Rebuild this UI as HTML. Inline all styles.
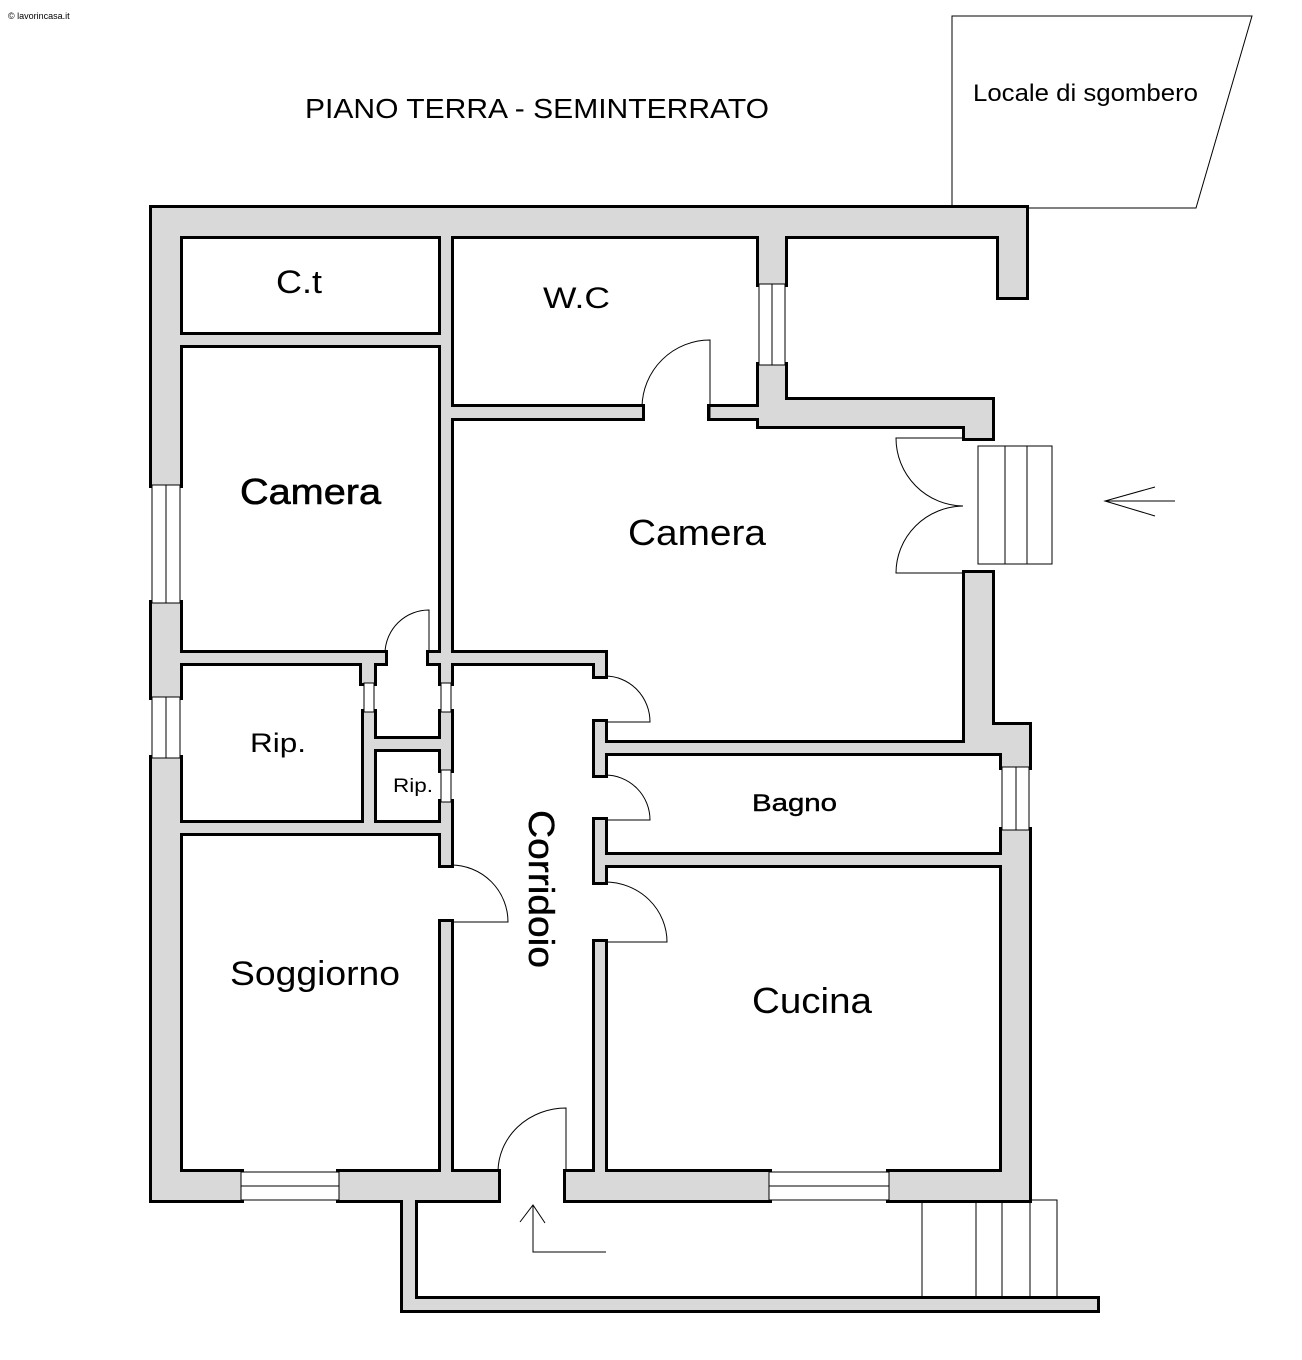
<!DOCTYPE html>
<html><head><meta charset="utf-8"><style>
body{margin:0;background:#fff}
svg{display:block}
text{font-family:"Liberation Sans",sans-serif;fill:#000}
</style></head><body>
<svg width="1302" height="1360" viewBox="0 0 1302 1360" xmlns="http://www.w3.org/2000/svg">
<defs>
<g id="walls">
<rect x="152" y="208" width="874" height="28"/>
<rect x="152" y="208" width="28" height="277"/>
<rect x="152" y="603" width="28" height="94"/>
<rect x="152" y="758" width="28" height="442"/>
<rect x="152" y="1172" width="89" height="28"/>
<rect x="339" y="1172" width="159" height="28"/>
<rect x="566" y="1172" width="203" height="28"/>
<rect x="889" y="1172" width="140" height="28"/>
<rect x="1002" y="830" width="27" height="370"/>
<rect x="1002" y="725" width="27" height="42"/>
<rect x="965" y="725" width="64" height="20"/>
<rect x="965" y="573" width="27" height="172"/>
<rect x="999" y="208" width="27" height="89"/>
<rect x="759" y="208" width="26" height="76"/>
<rect x="759" y="365" width="26" height="61"/>
<rect x="759" y="400" width="233" height="26"/>
<rect x="965" y="400" width="27" height="38"/>
<rect x="441" y="208" width="10" height="475"/>
<rect x="180" y="335" width="261" height="10"/>
<rect x="450" y="407" width="192" height="11"/>
<rect x="710" y="407" width="50" height="11"/>
<rect x="180" y="653" width="205" height="10"/>
<rect x="429" y="653" width="176" height="10"/>
<rect x="595" y="653" width="10" height="23"/>
<rect x="362" y="653" width="12" height="30"/>
<rect x="364" y="712" width="10" height="121"/>
<rect x="180" y="823" width="271" height="10"/>
<rect x="364" y="739" width="87" height="10"/>
<rect x="441" y="712" width="10" height="58"/>
<rect x="441" y="802" width="10" height="63"/>
<rect x="441" y="922" width="10" height="260"/>
<rect x="595" y="722" width="10" height="53"/>
<rect x="595" y="820" width="10" height="62"/>
<rect x="595" y="942" width="10" height="240"/>
<rect x="600" y="743" width="405" height="10"/>
<rect x="600" y="855" width="405" height="10"/>
<rect x="403" y="1190" width="12" height="120"/>
<rect x="403" y="1299" width="694" height="11"/>
</g>
</defs>
<text x="8" y="19" font-size="9">© lavorincasa.it</text>
<text x="305" y="118" font-size="28" textLength="464" lengthAdjust="spacingAndGlyphs">PIANO TERRA - SEMINTERRATO</text>
<polygon points="952,16 1252,16 1196,208 952,208" fill="none" stroke="#000" stroke-width="1"/>
<text x="973" y="101" font-size="24" textLength="225" lengthAdjust="spacingAndGlyphs">Locale di sgombero</text>

<use href="#walls" fill="#000" stroke="#000" stroke-width="6"/>
<use href="#walls" fill="#d9d9d9" stroke="none"/>

<g fill="#fff" stroke="#000" stroke-width="1">
<rect x="152" y="485" width="28" height="118"/><line x1="166" y1="485" x2="166" y2="603"/>
<rect x="152" y="697" width="28" height="61"/><line x1="166" y1="697" x2="166" y2="758"/>
<rect x="241" y="1172" width="98" height="28"/><line x1="241" y1="1186" x2="339" y2="1186"/>
<rect x="769" y="1172" width="120" height="28"/><line x1="769" y1="1186" x2="889" y2="1186"/>
<rect x="759" y="284" width="26" height="81"/><line x1="772" y1="284" x2="772" y2="365"/>
<rect x="1002" y="767" width="27" height="63"/><line x1="1016" y1="767" x2="1016" y2="830"/>
<rect x="364" y="683" width="10" height="29"/>
<rect x="441" y="683" width="10" height="29"/>
<rect x="441" y="770" width="10" height="32"/>
</g>
<g fill="none" stroke="#000" stroke-width="1">
<path d="M710,418 V340 A68,68 0 0 0 642,407"/>
<path d="M429,653 V610 A44,44 0 0 0 385,653"/>
<path d="M605,676 A45,46 0 0 1 650,722 H605"/>
<path d="M605,775 A45,45 0 0 1 650,820 H605"/>
<path d="M605,882 A62,60 0 0 1 667,942 H605"/>
<path d="M451,865 A57,57 0 0 1 508,922 H451"/>
<path d="M566,1172 V1108 A68,64 0 0 0 498,1172"/>
<path d="M965,438 H896 A68,68 0 0 0 963,506 A68,67 0 0 0 896,573 H965"/>
<rect x="978" y="446" width="74" height="118"/>
<line x1="1005" y1="446" x2="1005" y2="564"/><line x1="1027" y1="446" x2="1027" y2="564"/>
<line x1="922" y1="1203" x2="922" y2="1299"/>
<line x1="976" y1="1203" x2="976" y2="1299"/>
<line x1="1002" y1="1203" x2="1002" y2="1299"/>
<line x1="1030" y1="1200" x2="1030" y2="1299"/>
<path d="M1030,1200 H1057 V1299"/>
<path d="M606,1252 H533 V1205 M520,1222 L533,1205 L545,1223"/>
<path d="M1175,501 H1105 M1155,487 L1105,501 L1155,516"/>
</g>

<text x="276" y="293" font-size="32" textLength="46" lengthAdjust="spacingAndGlyphs">C.t</text>
<text x="543" y="308" font-size="30" textLength="67" lengthAdjust="spacingAndGlyphs">W.C</text>
<text x="240" y="504" font-size="36" textLength="141" lengthAdjust="spacingAndGlyphs" stroke="#000" stroke-width="0.6">Camera</text>
<text x="628" y="545" font-size="36" textLength="138" lengthAdjust="spacingAndGlyphs">Camera</text>
<text x="250" y="752" font-size="27" textLength="56" lengthAdjust="spacingAndGlyphs">Rip.</text>
<text x="393" y="792" font-size="19" textLength="40" lengthAdjust="spacingAndGlyphs">Rip.</text>
<text x="752" y="811" font-size="24" textLength="85" lengthAdjust="spacingAndGlyphs" stroke="#000" stroke-width="0.4">Bagno</text>
<text x="230" y="985" font-size="34" textLength="170" lengthAdjust="spacingAndGlyphs">Soggiorno</text>
<text x="752" y="1013" font-size="36" textLength="120" lengthAdjust="spacingAndGlyphs">Cucina</text>
<text transform="translate(529,810) rotate(90)" font-size="36" textLength="158" lengthAdjust="spacingAndGlyphs" stroke="#000" stroke-width="0.4">Corridoio</text>
</svg>
</body></html>
